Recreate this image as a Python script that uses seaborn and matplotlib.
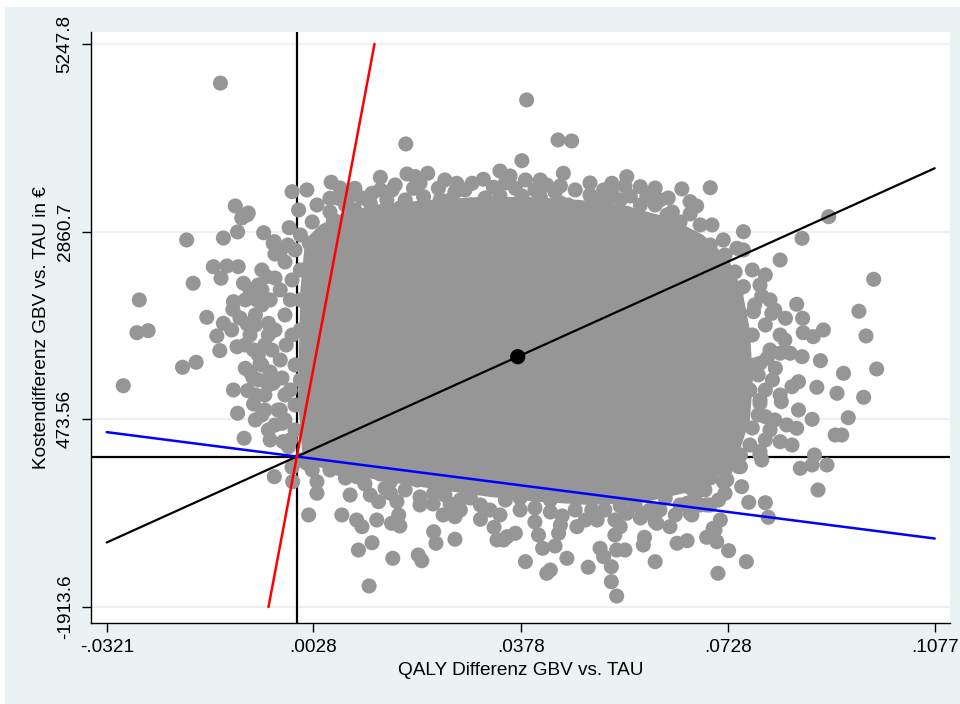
import matplotlib
matplotlib.use("Agg")
import matplotlib.pyplot as plt
from matplotlib.patches import Rectangle
import seaborn as sns

sns.set_theme(style="white")
plt.rcParams['font.family'] = ['Liberation Sans', 'DejaVu Sans']

# ---- data ----
qaly_diff = [
    -0.0129, -0.0008, 0.0017, -0.0104, -0.0084, -0.0093, 0.0003, 0.0034, -0.0100, -0.0056,
    -0.0013, -0.0186, -0.0124, 0.0058, -0.0082, -0.0040, -0.0028, -0.0037, -0.0141, -0.0118,
    -0.0099, -0.0128, -0.0175, -0.0266, -0.0270, -0.0251, -0.0152, -0.0135, -0.0130, -0.0101,
    -0.0193, -0.0170, -0.0293, -0.0107, -0.0083, -0.0100, -0.0089, -0.0073, -0.0054, -0.0087,
    -0.0074, -0.0090, -0.0107, -0.0108, -0.0084, -0.0124, -0.0110, -0.0073, -0.0051, -0.0048,
    -0.0062, -0.0040, -0.0028, -0.0025, -0.0011, -0.0018, -0.0011, -0.0003, 0.0006, -0.0068,
    -0.0059,
    0.0184, 0.0388, 0.0380, 0.0343, 0.0360, 0.0386, 0.0186, 0.0200, 0.0221, 0.0141,
    0.0098, 0.0127, 0.0239, 0.0270, 0.0296, 0.0315, 0.0332, 0.0369, 0.0197, 0.0214,
    0.0056, 0.0070, 0.0062, 0.0152, 0.0124, -0.0038, 0.0021, 0.0441, 0.0464, 0.0450,
    0.0557, 0.0532, 0.0580, 0.0650, 0.0698, 0.0664, 0.0675, 0.0664, 0.0591, 0.0563,
    0.0518, 0.0526, 0.0470, 0.0495, 0.0422, 0.0625, 0.0701, 0.0754, 0.0720, 0.0557,
    0.0602, 0.0535, 0.0743, 0.0898, 0.0853, 0.0259, 0.0293, 0.0343, 0.0411, 0.0445,
    0.0487, 0.0605, 0.0174, 0.0098, 0.0360,
    0.0712, 0.0816, 0.0754, 0.0974, 0.0785, 0.0754, 0.0743, 0.0844, 0.0949, 0.0854,
    0.0802, 0.0825, 0.0771, 0.0889, 0.0872, 0.0855, 0.0961, 0.0884, 0.0979, 0.0923,
    0.0833, 0.0853, 0.0816, 0.0794, 0.0808, 0.0782, 0.0878, 0.0836, 0.0847, 0.0912,
    0.0957, 0.0818, 0.0847, 0.0870, 0.0931, 0.0909, 0.0920, 0.0836, 0.0844, 0.0816,
    0.0827, 0.0791, 0.0782, 0.0874, 0.0895, 0.0850, 0.0765, 0.0782, 0.0870, 0.0769,
    0.0779, 0.0769, 0.0749, 0.0740,
    0.0880, 0.0751, 0.0763, 0.0791, 0.0796, 0.0715, 0.0706, 0.0692, 0.0709, 0.0729,
    0.0759, 0.0711, 0.0605, 0.0630, 0.0642, 0.0659, 0.0746, 0.0720, 0.0723, 0.0698,
    0.0659, 0.0664, 0.0605, 0.0585, 0.0386, 0.0422, 0.0428, 0.0492, 0.0456, 0.0531,
    0.0531, 0.0540, 0.0512, 0.0540, 0.0554, 0.0587, 0.0415, 0.0436, 0.0518, 0.0537,
    0.0546, 0.0507, 0.0473, 0.0442, 0.0408, 0.0369, 0.0349, 0.0703, 0.0667, 0.0585,
    0.0608, 0.0782, 0.0785, 0.0749, 0.0726, 0.0692, 0.0647, 0.0661, 0.0687, 0.0619,
    0.0557, 0.0498, 0.0473, 0.0428, 0.0377, 0.0310, 0.0512, 0.0588, 0.0681, 0.0448,
    0.0546, 0.0276, 0.0402,
    -0.0038, -0.0007, -0.0008, 0.0034, 0.0034, 0.0020, 0.0076, 0.0101, 0.0110, 0.0135,
    0.0160, 0.0174, 0.0172, 0.0127, 0.0104, 0.0162, 0.0205, 0.0211, 0.0122, 0.0231,
    0.0235, 0.0267, 0.0247, 0.0267, 0.0230, 0.0259, 0.0310, 0.0338, 0.0355, 0.0333,
    0.0090, 0.0124, 0.0138, 0.0169, 0.0149, 0.0203, 0.0017, 0.0042, -0.0023, -0.0014,
    0.0070, 0.0101, 0.0158, 0.0158, 0.0231, 0.0186,
    # dense ring around the centre
    0.0082, 0.0110, 0.0161, 0.0183, 0.0242, 0.0267, 0.0318, 0.0338, 0.0380, 0.0402,
    0.0436, 0.0458, 0.0504, 0.0546, 0.0580, 0.0613, 0.0634, 0.0647, 0.0681, 0.0698,
    0.0723, 0.0056, 0.0208, 0.0026, 0.0043,
    0.0006, -0.0015, -0.0003, -0.0020, -0.0008, -0.0028, -0.0045, -0.0020, -0.0037, -0.0008,
    -0.0054, -0.0028, -0.0003, -0.0045, -0.0020, -0.0054, -0.0003, -0.0037, -0.0011, -0.0070,
    -0.0079, -0.0065, -0.0045, 0.0006, 0.0006, 0.0006, -0.0065,
    0.0769, 0.0782, 0.0773, 0.0799, 0.0791, 0.0816, 0.0799, 0.0773, 0.0803, 0.0791,
    0.0816, 0.0779, 0.0799, 0.0765, 0.0740, 0.0723, 0.0698,
    0.0056, 0.0082, 0.0115, 0.0141, 0.0183, 0.0208, 0.0250, 0.0293, 0.0326, 0.0352,
    0.0377, 0.0402, 0.0428, 0.0470, 0.0487, 0.0520, 0.0537, 0.0571, 0.0596, 0.0622,
    0.0639, 0.0672, 0.0689, 0.0712, 0.0026, 0.0006,
    -0.0059, -0.0037, -0.0079, -0.0059, -0.0087, -0.0070, -0.0096, -0.0048, -0.0065, -0.0087,
    -0.0042, -0.0059, -0.0079, -0.0025, -0.0048, -0.0070, -0.0032, -0.0059, -0.0020, -0.0048,
    -0.0070,
    0.0166, 0.0208, 0.0250, 0.0284, 0.0352, 0.0411, 0.0445, 0.0495, 0.0554, 0.0605,
    0.0627, 0.0532, 0.0141, 0.0090, 0.0073,
    0.0791, 0.0807, 0.0824, 0.0782, 0.0807, 0.0791,
    0.0276, 0.0343, 0.0445, 0.0580, 0.0613, 0.0681, 0.0208,
]
cost_diff = [
    4750, 3369, 3391, 3187, 3073, 3035, 3136, 3200, 2857, 2847,
    2911, 2755, 2780, 3489, 3098, 2713, 2606, 2577, 2415, 2424,
    2415, 2268, 2204, 1992, 1576, 1601, 1771, 1534, 1347, 1397,
    1136, 1199, 901, 847, 838, 551, 233, 669, 592, 1123,
    1003, 2204, 1970, 1873, 1686, 1695, 1610, 1356, 2288, 1695,
    1186, 932, 592, 423, 1992, 1419, 847, 338, 2373, 1992,
    2119,
    3976, 4536, 3763, 3632, 3569, 3518, 3594, 3560, 3603, 3552,
    3412, 3349, 3412, 3476, 3476, 3527, 3425, 3412, 3412, 3305,
    3285, 3285, 3009, 3264, 3222, 2733, 2713, 4027, 4014, 3603,
    3560, 3476, 3433, 3404, 3420, 3242, 3187, 3086, 3314, 3314,
    3391, 3272, 3391, 3327, 3454, 3073, 2946, 2860, 2755, 3094,
    2988, 3094, 2649, 3051, 2776, 3264, 3200, 3315, 3302, 3225,
    3162, 3200, 3162, 3137, 3200,
    2500, 2500, 2628, 2255, 2042, 2161, 2097, 1937, 1848, 1759,
    1822, 1759, 1843, 1610, 1525, 1576, 1534, 1220, 1114, 1059,
    1314, 1270, 1314, 1250, 1123, 1186, 881, 889, 952, 805,
    754, 698, 592, 474, 494, 274, 274, 147, 360, 189,
    402, 507, 20, 20, -107, -149, 847, 678, -107, 1546,
    1038, 363, 20, 2348,
    -425, -383, -582, -587, -773, -807, -934, -1027, -1083, -1197,
    -1337, -1485, -1337, -892, -1103, -1070, -129, -320, -467, -616,
    -595, -722, -828, -1125, -1337, -1485, -1443, -1408, -1294, -1401,
    -1592, -1774, -1167, -1189, -1189, -1027, -1167, -1138, -1274, -998,
    -892, -807, -892, -976, -998, -976, -1061, -913, -743, -722,
    -849, 62, -44, -129, -298, -616, -616, -383, -129, -129,
    -722, -680, -531, -553, -680, -616, -451, -489, -324, -756,
    -629, -553, -832,
    -256, -320, -137, -320, -467, -743, -743, -807, -892, -807,
    -849, -883, -743, -1096, -1189, -1294, -1252, -1325, -1646, -956,
    -1103, -1052, -743, -765, -603, -603, -798, -1061, -1019, -900,
    -489, -489, -574, -574, -404, -298, -86, -35, 189, 126,
    -149, -256, -320, -467, -467, -193,
    # dense ring around the centre
    3200, 3289, 3391, 3264, 3264, 3365, 3289, 3187, 3314, 3391,
    3365, 3200, 3264, 3264, 3200, 3264, 3111, 2984, 2946, 2691,
    2564, 3111, 3111, 2984, 2818,
    2818, 2691, 2628, 2475, 2246, 2119, 1992, 1801, 1610, 1546,
    1419, 1228, 1165, 1076, 783, 783, 656, 401, 211, 1801,
    1546, 974, 211, 1992, 974, 1610, 2182,
    2373, 2182, 1928, 1992, 1673, 1546, 1355, 1165, 974, 847,
    783, 529, 338, 147, -44, -171, -273,
    -171, -273, -349, -222, -425, -514, -489, -527, -680, -553,
    -527, -654, -705, -680, -807, -680, -807, -616, -680, -527,
    -743, -489, -425, -553, -171, -44,
    2373, 2271, 2119, 1928, 1992, 1673, 1763, 1546, 1292, 1419,
    1355, 1165, 1076, 999, 910, 783, 592, 529, 465, 338,
    465,
    3454, 3480, 3518, 3391, 3480, 3518, 3442, 3480, 3442, 3416,
    3289, 3353, 3391, 3314, 3416,
    2310, 1864, 1483, 720, 465, 211,
    -680, -743, -871, -781, -680, -616, -616,
]

# outline of the solid, fully overplotted centre of the cloud
core_qaly = [0.0014, 0.0039, 0.0082, 0.0141, 0.0225, 0.0310, 0.0394, 0.0478, 0.0563, 0.0630,
             0.0686, 0.0728, 0.0752, 0.0765, 0.0770, 0.0765, 0.0748, 0.0715, 0.0656, 0.0580,
             0.0495, 0.0411, 0.0326, 0.0242, 0.0166, 0.0090, 0.0036, 0.0009, 0.0002, 0.0004,
             0.0006]
core_cost = [2755, 2946, 3111, 3213, 3264, 3302, 3302, 3264, 3174, 3034,
             2818, 2526, 2119, 1610, 974, 465, 84, -235, -463, -591,
             -616, -578, -514, -425, -336, -235, -133, 58, 720, 1483,
             2119]

mean_qaly = 0.0373
mean_cost = 1270
slope_red = 400000
slope_blue = -9680

x_ticks = [-0.0321, 0.0028, 0.0378, 0.0728, 0.1077]
x_ticklabels = ['-.0321', '.0028', '.0378', '.0728', '.1077']
y_ticks = [-1913.6, 473.56, 2860.7, 5247.8]
y_ticklabels = ['-1913.6', '473.56', '2860.7', '5247.8']

x_label = 'QALY Differenz GBV vs. TAU'
y_label = 'Kostendifferenz GBV vs. TAU in €'

# ---- figure ----
BG = '#EAF2F3'
GRAY = '#969696'
FS = 13.7

fig = plt.figure(figsize=(9.6, 7.04), dpi=100, facecolor='white')
fig.patches.append(Rectangle((5 / 960, 0), 955 / 960, 697 / 704, transform=fig.transFigure,
                             facecolor=BG, edgecolor='none', zorder=-5))
ax = fig.add_axes([91 / 960, 1 - 623 / 704, 859 / 960, 591 / 704])
ax.set_facecolor('white')

x_lo, x_hi = x_ticks[0], x_ticks[-1]
y_lo, y_hi = y_ticks[0], y_ticks[-1]

# reference lines at zero (behind the cloud)
ax.axhline(0, color='black', lw=1.6, zorder=1)
ax.axvline(0, color='black', lw=1.6, zorder=1)

# dense core + simulated points
ax.fill(core_qaly, core_cost, color=GRAY, lw=0, zorder=2)
sns.scatterplot(x=qaly_diff, y=cost_diff, color=GRAY, s=118, edgecolor='none', linewidth=0,
                ax=ax, zorder=3, legend=False)

# ICER line through the mean, and the two bound lines
slope_mean = mean_cost / mean_qaly
sns.lineplot(x=[x_lo, x_hi], y=[slope_mean * x_lo, slope_mean * x_hi], color='black',
             lw=1.6, ax=ax, zorder=4, estimator=None, sort=False)
sns.lineplot(x=[x_lo, x_hi], y=[slope_blue * x_lo, slope_blue * x_hi], color='#0000FF',
             lw=1.8, ax=ax, zorder=4, estimator=None, sort=False)
sns.lineplot(x=[y_lo / slope_red, y_hi / slope_red], y=[y_lo, y_hi], color='#FF0000',
             lw=1.8, ax=ax, zorder=4, estimator=None, sort=False, orient='y')
sns.scatterplot(x=[mean_qaly], y=[mean_cost], color='black', s=120, edgecolor='none',
                ax=ax, zorder=5, legend=False)

ax.set_xlim(-0.03475, 0.11028)
ax.set_ylim(-2117, 5400)

ax.set_xticks(x_ticks)
ax.set_xticklabels(x_ticklabels, fontsize=FS)
ax.set_yticks(y_ticks)
ax.set_yticklabels(y_ticklabels, fontsize=FS, rotation=90, va='center')
ax.tick_params(axis='both', direction='out', length=6.5, width=1, color='black',
               labelcolor='black', pad=5, bottom=True, left=True)
ax.tick_params(axis='y', pad=6)

ax.yaxis.grid(True, color=BG, lw=1.5)
ax.xaxis.grid(False)
ax.set_axisbelow(True)

for side in ['top', 'right']:
    ax.spines[side].set_visible(False)
for side in ['left', 'bottom']:
    ax.spines[side].set_color('black')
    ax.spines[side].set_linewidth(1.0)

ax.set_xlabel(x_label, fontsize=FS, color='black', labelpad=4)
ax.set_ylabel(y_label, fontsize=FS, color='black', labelpad=5)

fig.savefig('out.png', dpi=100, facecolor=fig.get_facecolor())
